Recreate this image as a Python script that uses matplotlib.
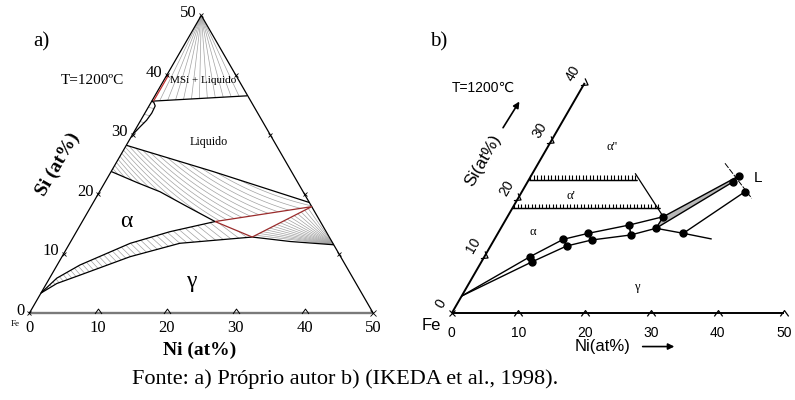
import numpy as np
import matplotlib
matplotlib.use("Agg")
import matplotlib.pyplot as plt
from matplotlib.path import Path
from matplotlib.patches import Polygon
from matplotlib.collections import LineCollection
from matplotlib.markers import MarkerStyle
from matplotlib.transforms import Affine2D
import matplotlib.patheffects as pe

SQ3 = np.sqrt(3) / 2

# ===== Panel a: Fe-Ni-Si isothermal section, 1200 C (Ni, Si in at%) =====
a_ticks = [0, 10, 20, 30, 40, 50]
a_edge_ticks = [10, 20, 30, 40]
a_msi_tie_ni = [0.0, 13.4]
a_msi_tie_si = [35.6, 36.5]
a_msi_red_si = [35.6, 40.0]
a_lens_ni = [0.0, 0.45, 0.85, 1.0, 0.9, 0.4, 0.0]
a_lens_si = [29.9, 31.3, 32.4, 33.6, 34.8, 35.4, 35.6]
a_liq_ni = [0.0, 14.8, 31.4]
a_liq_si = [28.2, 23.8, 18.6]
a_alpha_liq_ni = [0.0, 4.8, 8.8, 13.8, 19.3]
a_alpha_liq_si = [23.8, 21.9, 20.4, 18.0, 15.4]
a_alpha_gam_ni = [0.0, 1.05, 3.3, 8.8, 13.6, 19.3]
a_alpha_gam_si = [3.4, 5.9, 8.1, 11.75, 13.7, 15.4]
a_gam_alpha_ni = [0.0, 1.5, 4.15, 9.9, 16.0, 26.0]
a_gam_alpha_si = [3.4, 5.0, 6.4, 9.5, 11.75, 12.8]
a_gam_liq_ni = [26.0, 31.9, 38.5]
a_gam_liq_si = [12.8, 12.05, 11.5]
a_tri_ni = [19.3, 26.0, 32.1]   # alpha, gamma, liquid corners of tie triangle
a_tri_si = [15.4, 12.8, 17.9]

# ===== Panel b: after IKEDA et al. (1998) =====
b_ni_ticks = [0, 10, 20, 30, 40, 50]
b_si_ticks = [0, 10, 20, 30, 40]
b_comb_si = [23.15, 18.23]
b_comb_ni_end = [16.25, 22.2]
b_slant_ni = [15.43, 23.43]
b_slant_si = [24.31, 16.77]
b_upper_ni = [0.0, 6.86, 10.36, 13.6, 19.04, 23.43]
b_upper_si = [3.0, 9.83, 12.85, 13.89, 15.33, 16.77]
b_lower_ni = [0.0, 7.64, 11.45, 14.69, 20.12, 23.34, 27.88, 32.65]
b_lower_si = [3.0, 8.96, 11.69, 12.73, 13.6, 14.76, 13.89, 12.9]
b_liq_dot_ni = [31.3, 30.92, 33.55]
b_liq_dot_si = [23.9, 22.85, 21.12]
b_liq_bound_ni = [28.07, 35.13]
b_liq_bound_si = [26.05, 19.97]

SERIF = ['Liberation Serif', 'DejaVu Serif']
SANS = ['Liberation Sans', 'DejaVu Sans']


def tern(ni, si):
    ni = np.asarray(ni, float)
    si = np.asarray(si, float)
    return ni + si / 2, si * SQ3


def line(ax, ni, si, **kw):
    x, y = tern(ni, si)
    return ax.plot(x, y, solid_capstyle='butt', **kw)


W, H = 795, 400
fig = plt.figure(figsize=(W / 100, H / 100), dpi=100)


def make_panel(x0, x1, ox, oy, s):
    ax = fig.add_axes([x0 / W, 0, (x1 - x0) / W, 1])
    ax.set_xlim((x0 - ox) / s, (x1 - ox) / s)
    ax.set_ylim((oy - H) / s, oy / s)
    ax.axis('off')
    return ax


caret = Path([(-1, -0.7), (0, 0.7), (1, -0.7)], [Path.MOVETO, Path.LINETO, Path.LINETO])


def hatch_curves(ax, poly_x, poly_y, ang0, ang1, dc, **kw):
    xg = np.linspace(min(poly_x) - 0.5, max(poly_x) + 0.5, 400)
    th = np.deg2rad(ang0 + (ang1 - ang0) * (xg - xg[0]) / (xg[-1] - xg[0]))
    sl = np.tan(th)
    g = np.concatenate([[0], np.cumsum(0.5 * (sl[1:] + sl[:-1]) * np.diff(xg))])
    cv = np.asarray(poly_y) - np.interp(poly_x, xg, g)
    cs = np.arange(cv.min() - dc, cv.max() + dc, dc)
    segs = [np.column_stack([xg, g + c]) for c in cs]
    patch = Polygon(np.column_stack([poly_x, poly_y]), closed=True,
                    facecolor='none', edgecolor='none')
    ax.add_patch(patch)
    lc = LineCollection(segs, **kw)
    ax.add_collection(lc)
    lc.set_clip_path(patch)


# ------------------------------------------------------------------ panel a
axa = make_panel(0, 397, 29.3, 313.3, 6.88)
HC = '#a2a2a2'
HW = 0.5
RED = '#9a2b2b'

# alpha + L band hatch
bx, by = tern(a_liq_ni + [a_tri_ni[2]] + a_alpha_liq_ni[::-1],
              a_liq_si + [a_tri_si[2]] + a_alpha_liq_si[::-1])
hatch_curves(axa, bx, by, -52, -12, 0.75, colors=HC, linewidths=HW)

# alpha + gamma band hatch
gx, gy = tern(a_alpha_gam_ni + a_gam_alpha_ni[::-1],
              a_alpha_gam_si + a_gam_alpha_si[::-1])
hatch_curves(axa, gx, gy, -52, -35, 0.95, colors=HC, linewidths=HW)

# gamma + L fan towards the lower right corner
n_fan = 17
fan = []
cx, cy = tern(a_gam_liq_ni[-1], a_gam_liq_si[-1])
Gx, Gy = tern(a_tri_ni[1], a_tri_si[1])
Lx, Ly = tern(a_tri_ni[2], a_tri_si[2])
for k in range(1, n_fan):
    f = k / n_fan
    fan.append([(Gx + f * (Lx - Gx), Gy + f * (Ly - Gy)), (cx, cy)])
axa.add_collection(LineCollection(fan, colors=HC, linewidths=HW))

# MSi + L fan from the apex
ax_, ay_ = tern(0, 50)
t0x, t0y = tern(a_msi_tie_ni[0], a_msi_tie_si[0])
t1x, t1y = tern(a_msi_tie_ni[1], a_msi_tie_si[1])
n_msi = 12
msi = []
for k in range(1, n_msi):
    f = k / n_msi
    msi.append([(ax_, ay_), (t0x + f * (t1x - t0x), t0y + f * (t1y - t0y))])
axa.add_collection(LineCollection(msi, colors=HC, linewidths=HW))

# small liquid lens hatch
for s in [31.0, 32.2, 33.4, 34.6]:
    n_end = np.interp(s, a_lens_si, a_lens_ni)
    line(axa, [0, n_end], [s, s - 0.25], color=HC, lw=HW)

# triangle frame
line(axa, [0, 50], [0, 0], color='#7a7a7a', lw=1.7, zorder=3)
line(axa, [0, 0], [0, 50], color='k', lw=0.9, zorder=3)
line(axa, [0, 50], [50, 0], color='k', lw=0.9, zorder=3)

# phase boundaries
BL = dict(color='k', lw=0.9, zorder=4)
line(axa, a_msi_tie_ni, a_msi_tie_si, **BL)
line(axa, a_lens_ni, a_lens_si, **BL)
line(axa, a_liq_ni, a_liq_si, **BL)
line(axa, a_alpha_liq_ni, a_alpha_liq_si, **BL)
line(axa, a_alpha_gam_ni, a_alpha_gam_si, **BL)
line(axa, a_gam_alpha_ni, a_gam_alpha_si, **BL)
line(axa, a_gam_liq_ni, a_gam_liq_si, **BL)
line(axa, a_tri_ni + [a_tri_ni[0]], a_tri_si + [a_tri_si[0]], color=RED, lw=0.9, zorder=5)
line(axa, [0.25, 0.25], a_msi_red_si, color='#c03030', lw=0.9, zorder=5)

# tick marks
tx, ty = tern([0] * len(a_ticks), a_ticks)
axa.plot(tx, ty, ls='none', marker='x', ms=3.5, mew=0.6, color='k', zorder=6)
rx, ry = tern([50 - s for s in a_edge_ticks], a_edge_ticks)
axa.plot(rx, ry, ls='none', marker='x', ms=3.2, mew=0.6, color='k', zorder=6)
bx2, by2 = tern(a_ticks[1:-1], [0] * (len(a_ticks) - 2))
axa.plot(bx2, by2 + 0.35, ls='none', marker=caret, ms=5, mew=0.7, mfc='none', color='k', zorder=6)
ex, ey = tern([50], [0])
axa.plot(ex, ey, ls='none', marker='x', ms=4, mew=0.6, color='k', zorder=6)

# tick labels
for v in a_ticks:
    x, y = tern(v, 0)
    axa.text(x, y - 2.15, str(v), ha='center', va='center', fontsize=12, family=SERIF)
    x, y = tern(0, v)
    axa.text(x - 0.7, y + 0.35, str(v), ha='right', va='center', fontsize=12, family=SERIF)

axa.text(-2.1, -1.55, 'Fe', ha='center', va='center', fontsize=6.5, family=SERIF)
axa.text(24.8, -5.35, 'Ni (at%)', ha='center', va='center', fontsize=14,
         fontweight='bold', family=SERIF)
axa.text(4.2, 21.6, 'Si (at%)', ha='center', va='center', fontsize=14,
         fontweight='bold', family=SERIF, rotation=60)
axa.text(1.7, 39.4, 'a)', ha='center', va='center', fontsize=15, family=SERIF)
axa.text(9.1, 33.9, 'T=1200ºC', ha='center', va='center', fontsize=11, family=SERIF)
axa.text(25.3, 33.85, 'MSi + Liquido', ha='center', va='center', fontsize=8, family=SERIF)
axa.text(26.1, 24.9, 'Liquido', ha='center', va='center', fontsize=8.7, family=SERIF)
axa.text(14.1, 13.3, 'α', ha='center', va='center', fontsize=17, family=SERIF)
axa.text(23.5, 4.6, 'γ', ha='center', va='center', fontsize=17, family=SERIF)

# ------------------------------------------------------------------ panel b
axb = make_panel(400, 795, 451.7, 313.3, 6.65)

line(axb, [0, 50], [0, 0], color='k', lw=1.4)
line(axb, [0, 0], [0, 40], color='k', lw=1.4)

nx, ny = tern(b_ni_ticks[1:], [0] * (len(b_ni_ticks) - 1))
axb.plot(nx, ny, ls='none', marker=caret, ms=6, mew=0.9, mfc='none', color='k')
ox_, oy_ = tern(0, 0)
axb.plot([ox_], [oy_], ls='none', marker='x', ms=4, mew=0.8, color='k')
sx, sy = tern([0] * (len(b_si_ticks) - 1), b_si_ticks[1:])
rot_caret = MarkerStyle(caret, fillstyle='none', transform=Affine2D().rotate_deg(-120))
axb.plot(sx, sy, ls='none', marker=rot_caret, ms=6, mew=0.9, color='k')

for v in b_ni_ticks:
    x, y = tern(v, 0)
    axb.text(x, y - 2.95, str(v), ha='center', va='center', fontsize=10, family=SANS)
for v in b_si_ticks:
    x, y = tern(0, v)
    x += 0.45 * 0.5 - 2.2 * SQ3
    y += 0.45 * SQ3 + 2.2 * 0.5
    axb.text(x, y, str(v), ha='center', va='center', fontsize=10, family=SANS, rotation=60)

# comb (ticked) lines
for si, ne in zip(b_comb_si, b_comb_ni_end):
    line(axb, [0, ne], [si, si], color='k', lw=0.9,
         path_effects=[pe.Normal(), pe.withTickedStroke(angle=90, spacing=2.5, length=1.3,
                                                         linewidth=0.8)])
line(axb, b_slant_ni, b_slant_si, color='k', lw=0.9)

# boundary curves
line(axb, b_upper_ni, b_upper_si, color='k', lw=1.0)
line(axb, b_lower_ni, b_lower_si, color='k', lw=1.0)

# tie lines between dot pairs
for k in range(1, 5):
    line(axb, [b_upper_ni[k], b_lower_ni[k]], [b_upper_si[k], b_lower_si[k]], color='k', lw=1.2)

# gray three-phase band towards the liquid
px, py = tern([b_upper_ni[-1], b_liq_dot_ni[0], b_liq_dot_ni[1], b_lower_ni[5]],
              [b_upper_si[-1], b_liq_dot_si[0], b_liq_dot_si[1], b_lower_si[5]])
axb.add_patch(Polygon(np.column_stack([px, py]), closed=True, facecolor='#b8b8b8',
                      edgecolor='k', lw=1.0))
line(axb, [b_lower_ni[6], b_liq_dot_ni[2]], [b_lower_si[6], b_liq_dot_si[2]], color='k', lw=1.0)
line(axb, b_liq_bound_ni, b_liq_bound_si, color='k', lw=0.7, ls=(0, (6, 1.5)))

# dots
ux, uy = tern(b_upper_ni[1:], b_upper_si[1:])
axb.plot(ux, uy, ls='none', marker='o', ms=5, color='k')
lx, ly = tern(b_lower_ni[1:7], b_lower_si[1:7])
axb.plot(lx, ly, ls='none', marker='o', ms=5, color='k')
dx, dy = tern(b_liq_dot_ni, b_liq_dot_si)
axb.plot(dx, dy, ls='none', marker='o', ms=5, color='k')

# labels
axb.text(-1.9, 40.8, 'b)', ha='center', va='center', fontsize=15, family=SERIF)
axb.text(4.7, 33.9, 'T=1200℃', ha='center', va='center', fontsize=10, family=SANS)
axb.text(4.75, 23.05, 'Si(at%)', ha='center', va='center', fontsize=12.5, family=SANS, rotation=60)
axb.annotate('', xy=(10.4, 32.2), xytext=(7.5, 27.55),
             arrowprops=dict(arrowstyle='-|>', color='k', lw=1.2, mutation_scale=9))
axb.text(22.7, -5.05, 'Ni(at%)', ha='center', va='center', fontsize=12, family=SANS)
axb.annotate('', xy=(33.9, -5.0), xytext=(28.3, -5.0),
             arrowprops=dict(arrowstyle='-|>', color='k', lw=1.2, mutation_scale=9))
axb.text(-3.1, -1.9, 'Fe', ha='center', va='center', fontsize=12, family=SANS)
axb.text(24.1, 25.0, "α''", ha='center', va='center', fontsize=9, family=SERIF)
axb.text(17.9, 17.6, "α'", ha='center', va='center', fontsize=9, family=SERIF)
axb.text(12.2, 12.2, 'α', ha='center', va='center', fontsize=9, family=SERIF)
axb.text(27.9, 3.95, 'γ', ha='center', va='center', fontsize=9, family=SERIF)
axb.text(46.1, 20.35, 'L', ha='center', va='center', fontsize=11, family=SANS)

fig.text(345 / W, 1 - 379 / H, 'Fonte: a) Próprio autor b) (IKEDA et al., 1998).',
         ha='center', va='center', fontsize=16, family=SERIF)

fig.savefig('out.png', dpi=100, facecolor='white')
